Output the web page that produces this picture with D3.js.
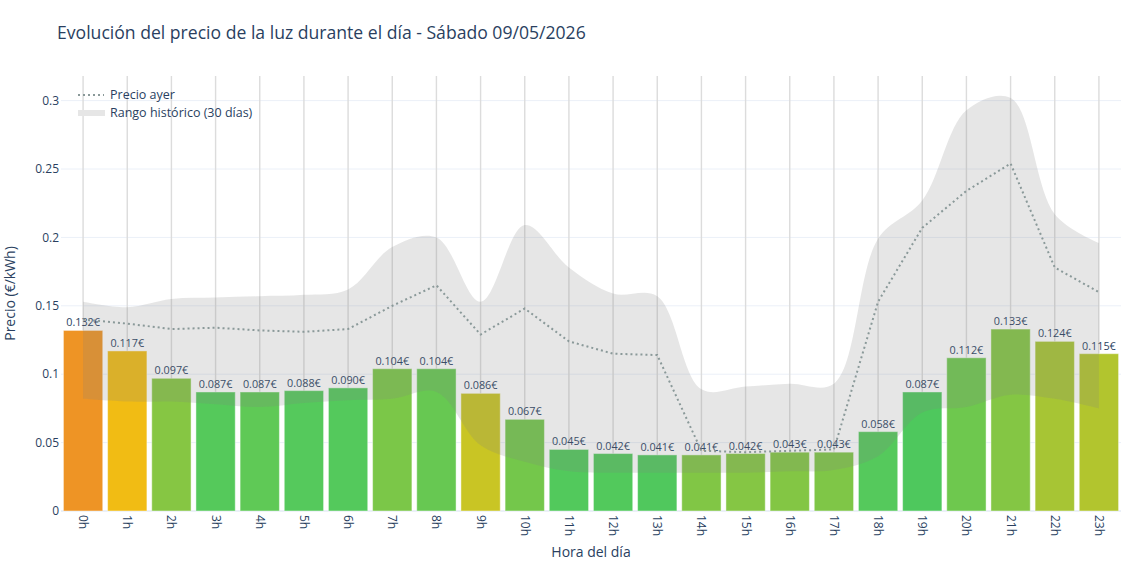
<!DOCTYPE html>
<html>
<head>
<meta charset="utf-8">
<script src="https://cdn.jsdelivr.net/npm/d3@7"></script>
<style>
  body { margin: 0; background: #fff; }
  text { font-family: "Open Sans", "Noto Sans", sans-serif; fill: #2a3f5f; }
</style>
</head>
<body>
<div id="chart"></div>
<script>
// datos del día
var horas = ["0h","1h","2h","3h","4h","5h","6h","7h","8h","9h","10h","11h",
             "12h","13h","14h","15h","16h","17h","18h","19h","20h","21h","22h","23h"];
var precioHoy = [0.132,0.117,0.097,0.087,0.087,0.088,0.090,0.104,0.104,0.086,0.067,0.045,
                 0.042,0.041,0.041,0.042,0.043,0.043,0.058,0.087,0.112,0.133,0.124,0.115];
var precioAyer = [0.140,0.137,0.133,0.134,0.132,0.131,0.133,0.150,0.165,0.129,0.148,0.124,
                  0.115,0.114,0.044,0.043,0.044,0.045,0.153,0.207,0.234,0.254,0.178,0.160];
var rangoMax = [0.153,0.149,0.155,0.156,0.157,0.158,0.162,0.193,0.200,0.153,0.209,0.178,
                0.159,0.157,0.089,0.091,0.093,0.093,0.199,0.227,0.293,0.302,0.217,0.196];
var rangoMin = [0.082,0.080,0.080,0.078,0.076,0.079,0.081,0.082,0.087,0.048,0.036,0.029,
                0.028,0.028,0.028,0.028,0.029,0.030,0.040,0.072,0.076,0.085,0.082,0.075];
var yTicks = [0, 0.05, 0.1, 0.15, 0.2, 0.25, 0.3];

var width = 1140, height = 570;
var margin = {top: 76, right: 19, bottom: 59, left: 61};

var svg = d3.select("#chart").append("svg")
    .attr("width", width)
    .attr("height", height);

var x = d3.scaleBand()
    .domain(horas)
    .range([margin.left, width - margin.right])
    .paddingInner(0.11)
    .paddingOuter(0.055);

var y = d3.scaleLinear()
    .domain([0, 0.318])
    .range([height - margin.bottom, margin.top]);

// color según la posición del precio dentro del rango histórico
var color = d3.scaleLinear()
    .domain([0.09, 0.12, 0.165, 0.21, 0.32, 0.36, 0.54, 0.70])
    .range(["#4cc85e","#57c95b","#6ec84e","#80c646","#aac532","#c9c524","#f2bc14","#ee9425"])
    .clamp(true);

var datos = horas.map(function(h, i) {
  return {hora: h, hoy: precioHoy[i], ayer: precioAyer[i], min: rangoMin[i], max: rangoMax[i]};
});

function centro(h) { return x(h) + x.bandwidth() / 2; }

// grid horizontal
svg.append("g").selectAll("line")
  .data(yTicks).enter().append("line")
    .attr("x1", margin.left).attr("x2", width - margin.right)
    .attr("y1", function(d){ return y(d); })
    .attr("y2", function(d){ return y(d); })
    .style("stroke", "#ebf0f8")
    .style("stroke-width", function(d){ return d === 0 ? 2 : 1; });

// grid vertical
svg.append("g").selectAll("line")
  .data(horas).enter().append("line")
    .attr("x1", function(d){ return centro(d); })
    .attr("x2", function(d){ return centro(d); })
    .attr("y1", margin.top).attr("y2", height - margin.bottom)
    .style("stroke", "#dcdcdc")
    .style("stroke-width", 1.4);

// barras
svg.append("g").selectAll("rect")
  .data(datos).enter().append("rect")
    .attr("x", function(d){ return x(d.hora); })
    .attr("y", function(d){ return y(d.hoy); })
    .attr("width", x.bandwidth())
    .attr("height", function(d){ return y(0) - y(d.hoy); })
    .style("fill", function(d){ return color((d.hoy - d.min) / (d.max - d.min)); })
    .style("stroke", "rgba(255,255,255,0.45)")
    .style("stroke-width", 1);

svg.append("g").selectAll("text")
  .data(datos).enter().append("text")
    .attr("x", function(d){ return centro(d.hora); })
    .attr("y", function(d){ return y(d.hoy) - 4; })
    .attr("text-anchor", "middle")
    .style("font-size", "10.8px")
    .text(function(d){ return d.hoy.toFixed(3) + "€"; });

// rango histórico
var area = d3.area()
    .x(function(d){ return centro(d.hora); })
    .y0(function(d){ return y(d.min); })
    .y1(function(d){ return y(d.max); })
    .curve(d3.curveCatmullRom.alpha(0.5));

svg.append("path")
    .datum(datos)
    .attr("d", area)
    .style("fill", "rgba(128,128,128,0.2)")
    .style("stroke", "none");

// precio de ayer
var linea = d3.line()
    .x(function(d){ return centro(d.hora); })
    .y(function(d){ return y(d.ayer); });

svg.append("path")
    .datum(datos)
    .attr("d", linea)
    .style("fill", "none")
    .style("stroke", "#8a9999")
    .style("stroke-width", 2)
    .style("stroke-dasharray", "2,3");

// ejes
svg.append("g").selectAll("text")
  .data(yTicks).enter().append("text")
    .attr("x", margin.left - 2)
    .attr("y", function(d){ return y(d); })
    .attr("dy", "0.35em")
    .attr("text-anchor", "end")
    .style("font-size", "12px")
    .text(function(d){ return d3.format("")(d); });

svg.append("g").selectAll("text")
  .data(horas).enter().append("text")
    .attr("transform", function(d){ return "translate(" + (centro(d) - 4) + "," + (height - margin.bottom + 4) + ") rotate(90)"; })
    .attr("text-anchor", "start")
    .style("font-size", "12px")
    .text(function(d){ return d; });

svg.append("text")
    .attr("x", (margin.left + width - margin.right) / 2)
    .attr("y", 557)
    .attr("text-anchor", "middle")
    .style("font-size", "14px")
    .text("Hora del día");

svg.append("text")
    .attr("transform", "translate(15," + ((margin.top + height - margin.bottom) / 2) + ") rotate(-90)")
    .attr("text-anchor", "middle")
    .style("font-size", "14px")
    .text("Precio (€/kWh)");

// título
svg.append("text")
    .attr("x", 57)
    .attr("y", 39)
    .style("font-size", "17.6px")
    .text("Evolución del precio de la luz durante el día - Sábado 09/05/2026");

// leyenda
var leyenda = svg.append("g").attr("transform", "translate(78,95)");
leyenda.append("line")
    .attr("x1", 0).attr("x2", 26).attr("y1", 0).attr("y2", 0)
    .style("stroke", "#8a9999").style("stroke-width", 2).style("stroke-dasharray", "2,3");
leyenda.append("text").attr("x", 32).attr("y", 0).attr("dy", "0.35em")
    .style("font-size", "12.5px").text("Precio ayer");
leyenda.append("rect")
    .attr("x", 0).attr("y", 15).attr("width", 27).attr("height", 6)
    .style("fill", "#e6e6e6");
leyenda.append("text").attr("x", 32).attr("y", 18).attr("dy", "0.35em")
    .style("font-size", "12.5px").text("Rango histórico (30 días)");
</script>
</body>
</html>
